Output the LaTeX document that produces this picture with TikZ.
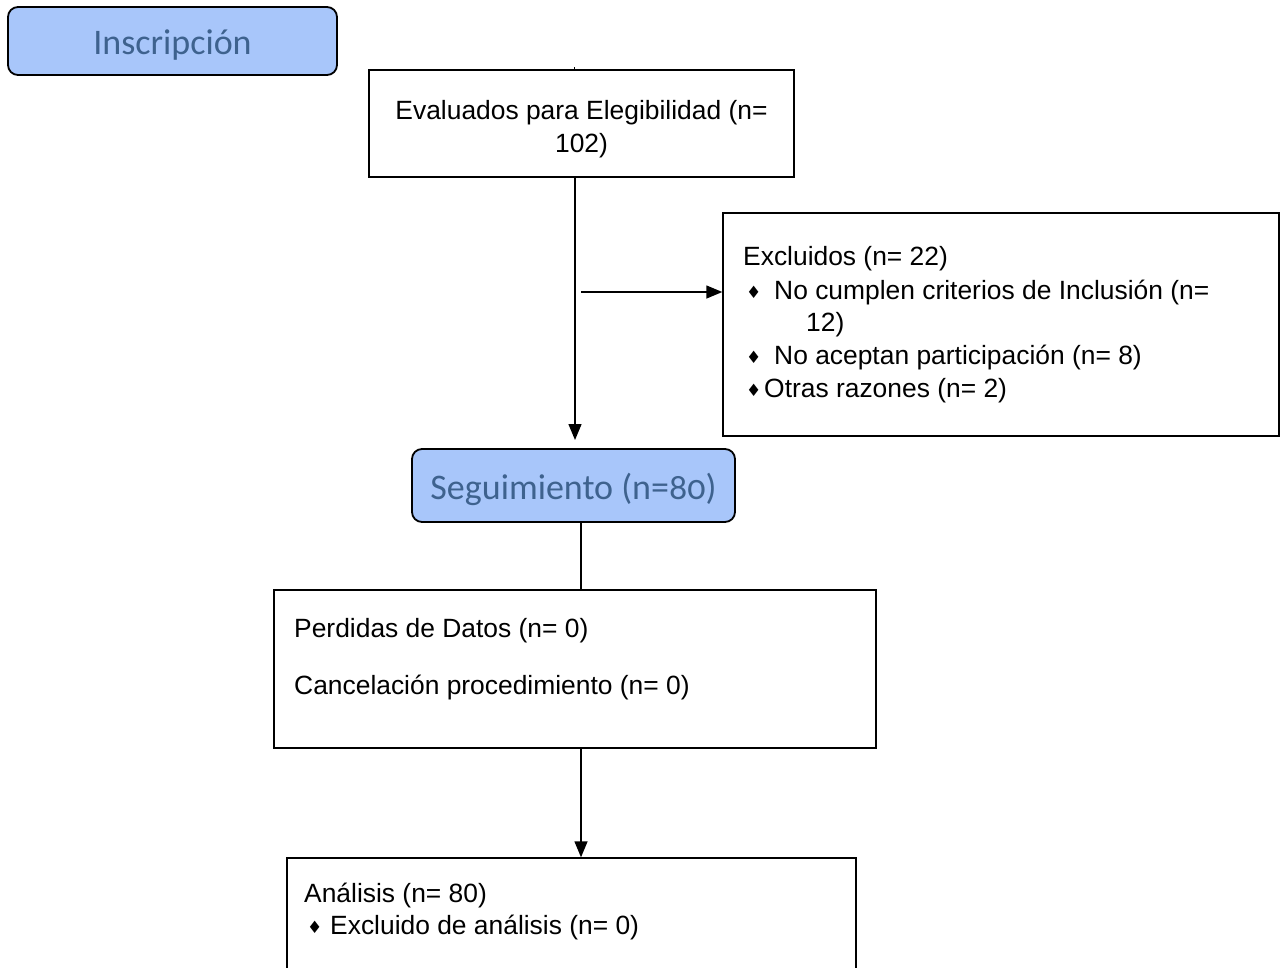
\documentclass[tikz,border=0pt]{standalone}
\usepackage{fontspec}
\setmainfont{Liberation Sans}
\newfontfamily\calfont[Numbers=OldStyle]{Carlito}
\newfontfamily\symfont{DejaVu Sans}
\usetikzlibrary{arrows.meta,calc}
\definecolor{bluefill}{RGB}{168,198,250}
\definecolor{bluetext}{RGB}{62,98,142}
\newcommand{\dia}{{\fontsize{17}{17}\selectfont\symfont\raisebox{0.5pt}{♦}}}
\newcommand{\lowerit}[1]{\raisebox{-4pt}[\height][\depth]{#1}}
\tikzset{
  box/.style={draw=black, line width=1.4pt, rectangle, inner sep=0pt},
  phase/.style={draw=black, line width=1.8pt, fill=bluefill, rounded corners=10pt, inner sep=0pt,
    text=bluetext, font=\calfont\fontsize{36}{40}\selectfont},
  txt/.style={anchor=base west, inner sep=0pt, font=\fontsize{26.4}{33}\selectfont},
  conn/.style={line width=1.4pt},
  arr/.style={line width=1.4pt, -{Triangle[width=13pt,length=16pt]}}
}
\begin{document}
\begin{tikzpicture}[x=1pt,y=-1pt]
\useasboundingbox (0,0) rectangle (1281,967);
% boxes
\node[phase, minimum width=329pt, minimum height=68pt] (insc) at (172.5,41) {\lowerit{Inscripción}};
\node[box, minimum width=425pt, minimum height=107pt] (ev) at (581.5,123.5) {};
\node[box, minimum width=556pt, minimum height=223pt] (ex) at (1001,324.5) {};
\node[phase, minimum width=323pt, minimum height=73pt] (seg) at (573.5,485.5) {\lowerit{Seguimiento (n=80)}};
\node[box, minimum width=602pt, minimum height=158pt] (per) at (575,669) {};
\node[box, minimum width=569pt, minimum height=140pt] (an) at (571.5,928) {};
% texts
\node[txt, anchor=base] (ev1) at (581.5,119) {Evaluados para Elegibilidad (n=};
\node[txt, anchor=base] (ev2) at (581.5,152) {102)};
\node[txt] (ex1) at (743,265) {Excluidos (n= 22)};
\node[txt] (ex2) at (746,299) {\makebox[28pt][l]{\dia}No cumplen criterios de Inclusión (n=};
\node[txt] (ex3) at (806,331) {12)};
\node[txt] (ex4) at (746,364) {\makebox[28pt][l]{\dia}No aceptan participación (n= 8)};
\node[txt] (ex5) at (746,397) {\makebox[18pt][l]{\dia}Otras razones (n= 2)};
\node[txt] (pe1) at (294,637) {Perdidas de Datos (n= 0)};
\node[txt] (pe2) at (294,694) {Cancelación procedimiento (n= 0)};
\node[txt] (an1) at (304,902) {Análisis (n= 80)};
\node[txt] (an2) at (307,934) {\makebox[23pt][l]{\dia}Excluido de análisis (n= 0)};
% connectors
\coordinate (tick) at (574,67);
\draw[line width=1pt] (tick) -- (tick |- ev.north);
\coordinate (segtip) at (575,440);
\draw[arr] (ev.south -| segtip) -- (segtip);
\coordinate (hstart) at (581,292);
\draw[arr] (hstart) -- (hstart -| ex.west);
\coordinate (sp) at (581,0);
\draw[conn] (sp |- seg.south) -- (sp |- per.north);
\draw[arr] (sp |- per.south) -- (sp |- an.north);
\end{tikzpicture}
\end{document}
